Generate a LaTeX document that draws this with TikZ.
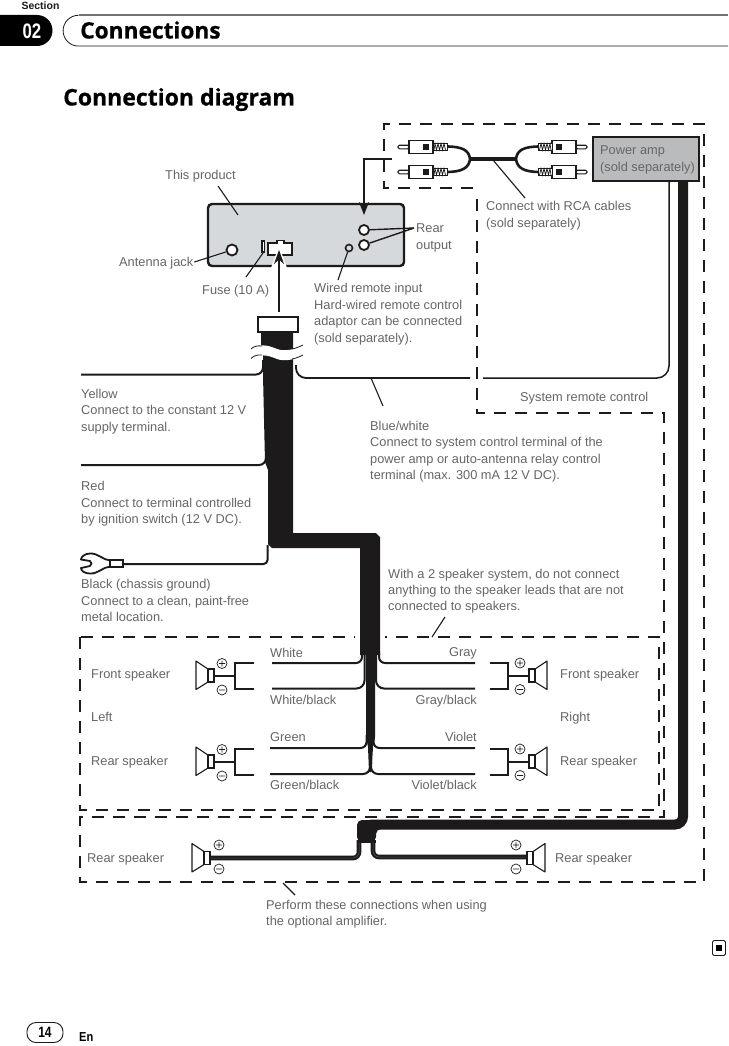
\documentclass[tikz,border=0pt]{standalone}
\usepackage{fontspec}
\setmainfont{Liberation Sans}
\newfontfamily\headfont{Open Sans}[BoldFeatures={FakeBold=0.6}]
\usetikzlibrary{arrows.meta}
\definecolor{txt}{HTML}{666666}
\definecolor{prod}{HTML}{D6D9DB}
\definecolor{amp}{HTML}{B9BBBD}
\definecolor{ink}{HTML}{1C1A1B}
\tikzset{
  lbl/.style={anchor=west,inner sep=0pt,text=txt,text height=10pt,text depth=2pt,font=\fontsize{12.8}{12.8}\selectfont},
  lblr/.style={lbl,anchor=east},
  region/.style={draw=ink,line width=1.2pt,dash pattern=on 12pt off 9pt},
  wire/.style={draw=ink,line width=2pt,rounded corners=7pt},
  leader/.style={draw=ink,line width=1.1pt},
  jack/.style={circle,draw=ink,fill=white,inner sep=0pt},
  spkr/.pic={
    \draw[ink,line width=1.1pt,fill=white,line join=round] (0,-6.5)--(-12,-14.5)--(-12,14)--(0,6.5)--cycle;
    \draw[ink,line width=1.1pt,fill=white] (0,-6.5) rectangle (6,6.5);
  },
  polar/.pic={
    \draw[ink,line width=.7pt] (0,0) circle (5pt) (-3,0)--(3,0) (0,-3)--(0,3);
    \draw[ink,line width=.7pt] (0,26.5) circle (5pt) (-3,26.5)--(3,26.5);
  },
  polarshort/.pic={
    \draw[ink,line width=.7pt] (0,0) circle (5pt) (-3,0)--(3,0) (0,-3)--(0,3);
    \draw[ink,line width=.7pt] (0,24) circle (5pt) (-3,24)--(3,24);
  },
  plug/.pic={
    \draw[ink,line width=1.1pt,fill=white,rounded corners=1.5pt] (-11,-1.8) rectangle (0,1.8);
    \draw[ink,line width=1.1pt,fill=white] (0,-6.5) rectangle (24,6.5);
    \fill[ink] (14,-3) rectangle (20,3);
    \draw[ink,line width=.9pt,fill=white] (24,-3.5) rectangle (38,3);
    \draw[ink,line width=.7pt] (25,3)--(26,-3.5)--(27.5,3)--(29,-3.5)--(30.5,3)--(32,-3.5)--(33.5,3)--(35,-3.5)--(36.5,3);
  }
}
\begin{document}
\begin{tikzpicture}[x=1pt,y=-1pt]
\useasboundingbox[fill=white] (0,0) rectangle (728,1046);

% header
\node[anchor=base,inner sep=0pt,font=\fontsize{10.5}{10.5}\selectfont\bfseries,text=ink] (sect) at (40.5,10) {Section};
\fill[black] (0,15) -- (37,15) arc[start angle=90,end angle=-90,radius=15.5pt] -- (0,46) -- cycle;
\node[inner sep=0pt,text=white,font=\fontsize{21}{21}\selectfont\bfseries] (num) at (32,31) {\scalebox{.8}[1]{02}};
\draw[draw=gray!90!black,line width=1.6pt] (728,15.3) -- (78.5,15.3);
\draw[draw=ink,line width=.8pt] (78.5,15.3) arc[start angle=90,end angle=270,radius=15.4pt] -- (728,46.1);
\node[anchor=base west,inner sep=0pt,font=\fontsize{22.7}{23}\headfont\bfseries] (title) at (80,38.5) {Connections};
\node[anchor=base west,inner sep=0pt,font=\fontsize{23}{23}\headfont\bfseries] (subtitle) at (63,105.5) {Connection diagram};

% dashed regions
\draw[region] (473,188)--(384,188)--(384,124)--(704,124)--(704,882)--(80,882)--(80,817)--(664,817)--(664,413)--(477,413)--(477,192);
\draw[region] (80,637) rectangle (659,810);
\fill[white] (355,630) rectangle (385,645);

% amp and RCA
\node[draw=ink,fill=amp,line width=2pt,minimum width=106pt,minimum height=44pt,inner sep=0pt] (amp) at (646,159) {};
\node[lbl] at (600,150) {Power amp};
\node[lbl] at (600,167) {(sold separately)};

\coordinate (rcaL) at (470,159);
\coordinate (rcaR) at (516,159);
\draw[ink,line width=3.2pt] (rcaL)--(rcaR);
\draw[ink,line width=2.6pt] (446,146.5) .. controls (462,146.5) and (469,150) .. (rcaL) .. controls (469,168) and (462,172) .. (446,172);
\draw[ink,line width=2.6pt] (540,146.5) .. controls (524,146.5) and (517,150) .. (rcaR) .. controls (517,168) and (524,172) .. (540,172);
\pic at (409,147) {plug};
\pic at (409,172) {plug};
\pic[xscale=-1] at (576,147) {plug};
\pic[xscale=-1] at (576,172) {plug};

% product
\node[draw=ink,fill=prod,line width=2.4pt,rounded corners=4pt,minimum width=196pt,minimum height=62pt,inner sep=0pt] (prod) at (306,235) {};
\node[jack,line width=1.8pt,minimum size=11pt] (ant) at (232,250) {};
\node[jack,line width=1.8pt,minimum size=10pt] (rearA) at (364,230) {};
\node[jack,line width=1.8pt,minimum size=10pt] (rearB) at (364,245) {};
\node[jack,line width=1.6pt,minimum size=7pt,fill=prod] (wired) at (349,248) {};
\draw[ink,line width=1.8pt,fill=white] (268,243)--(277,243)--(277,240.5)--(284,240.5)--(284,243)--(292,243)--(292,255)--(268,255)--cycle;
\draw[ink,line width=1.2pt,fill=white] (262,241) rectangle (264.5,252);
\fill[white] (279,246)--(271,268)--(287,268)--cycle;

% labels around product
\node[lbl] (tprod) at (165,175) {This product};
\node[lbl] (trca) at (486,206) {Connect with RCA cables};
\node[lbl] at (486,223) {(sold separately)};
\node[lbl] (trear) at (416,228) {Rear};
\node[lbl] at (416,245) {output};
\node[lbl] (tant) at (119,262) {Antenna jack};
\node[lbl] (tfuse) at (202,290) {Fuse (10 A)};
\node[lbl] (twired) at (314,288) {Wired remote input};
\node[lbl] at (314,305) {Hard-wired remote control};
\node[lbl] at (314,321) {adaptor can be connected};
\node[lbl] at (314,338) {(sold separately).};

% leaders
\draw[leader] (218,186) -- (238,215);
\draw[leader] (493,160) -- (525,198);
\draw[leader] (tant.east) ++(1,0) -- (ant);
\draw[leader] (263,253) -- (246,277);
\draw[leader] (wired) -- (338,280);
\draw[leader,line width=1.4pt] (trear.west) ++(-2,0) -- (rearA);
\draw[leader,line width=1.4pt] (trear.west) ++(-2,0) -- (rearB);
\draw[ink,line width=1.4pt,-{Stealth[length=13pt,width=10pt]}] (392,159) -- (364,159) -- (364,215);

% system remote
\draw[wire,line width=1.5pt,rounded corners=12pt] (669,181) -- (669,378) -- (483,378);
\draw[wire,line width=1.8pt,rounded corners=10pt] (470,378) -- (296,378) -- (296,365);
\draw[leader] (371,378) -- (383,406);

% amp power wire
\draw[ink,line width=10pt,rounded corners=8pt] (683,181) -- (683,824.5) -- (370,824.5);
\fill[ink,rounded corners=5pt] (357,842) -- (357,820) -- (385,820) -- (385,829) -- (376,829) -- (376,842) -- cycle;
\fill[ink] (357,840) rectangle (376,843);

% bottom speaker wires
\draw[ink,line width=4.6pt,rounded corners=6pt] (211,858) -- (359,858) -- (359,840);
\draw[ink,line width=4.6pt,rounded corners=6pt] (526,857) -- (373,857) -- (373,840);
\draw[gray!60!ink,line width=.5pt,rounded corners=6pt] (211,858) -- (359,858) -- (359,843);
\draw[gray!60!ink,line width=.5pt,rounded corners=6pt] (526,857) -- (373,857) -- (373,843);
\pic at (204,858) {spkr};
\pic at (219,845) {polarshort};
\pic[xscale=-1] at (533,858) {spkr};
\pic at (516,845) {polarshort};

% harness wires
\draw[wire] (81,374.5) -- (263,374.5) -- (263,360);
\draw[wire] (81,465) -- (266,465) -- (266,450);
\draw[wire,rounded corners=4pt] (122,564) -- (267.5,564) -- (267.5,545);

% harness
\fill[ink] (261,332) -- (293,332) -- (293,533) -- (376,533) -- (380,537) -- (380,655) -- (375,655) -- (375,737) -- (373,747) -- (371.5,772) -- (369,772) -- (368,747) -- (366,737) -- (366,655) -- (360,655) -- (360,548) -- (272,548) -- (268,544) -- (268,470) -- (265,462) -- (263,375) -- (263,352) -- (261,345) -- cycle;
\node[draw=ink,fill=white,line width=1.2pt,minimum width=40pt,minimum height=15pt,inner sep=0pt] (conn) at (278,324.5) {};
\draw[ink,line width=1.5pt,-{Stealth[length=14pt,width=10pt]}] (279,312) -- (279,250);
% break mark
\fill[white] (250,350) .. controls (258,343) and (268,345) .. (277,349) .. controls (285,352) and (295,349) .. (303,346) -- (303,356) .. controls (295,359) and (285,362) .. (277,359) .. controls (268,355) and (258,353) .. (250,360) -- cycle;
\draw[ink,line width=.8pt] (251,349) .. controls (254,346) and (258,345.5) .. (262,346);
\draw[ink,line width=.8pt] (251,358.5) .. controls (254,355.5) and (258,354.5) .. (262,355);
\draw[ink,line width=.8pt] (292,349) .. controls (295,348.5) and (299,347) .. (303,345);
\draw[ink,line width=.8pt] (292,359) .. controls (295,358.5) and (299,357) .. (303,355);

% ground lug
\draw[ink,line width=1.8pt,fill=white,line join=round] (110,560.5) .. controls (103,560) and (98,553) .. (90,553.5) .. controls (85,553.5) and (81,557) .. (81,559.5) -- (90,561) .. controls (92,562) and (92,565) .. (90,566) -- (81,568) .. controls (81,571) and (85,573.5) .. (90,573.5) .. controls (98,574) and (103,567) .. (110,566.5) -- cycle;
\draw[ink,line width=1.2pt,fill=white] (110,560) rectangle (123,567);

% left speakers
\foreach \dy in {0,86}{
  \begin{scope}[yshift=-\dy pt]
  \pic at (208,675.5) {spkr};
  \pic at (222,663.5) {polar};
  \draw[ink,line width=1.8pt] (214,676)--(235,676);
  \draw[ink,line width=1.8pt] (254,663)--(235,663)--(235,689)--(254,689);
  \pic[xscale=-1] at (535,675.5) {spkr};
  \pic at (520,663) {polar};
  \draw[ink,line width=1.8pt] (529,676)--(508,676);
  \draw[ink,line width=1.8pt] (490,663)--(508,663)--(508,689)--(490,689);
  \end{scope}
}
% speaker wires
\draw[wire,rounded corners=6pt] (272,663) -- (362,663) -- (362,652);
\draw[wire,rounded corners=8pt] (272,688.5) -- (364.5,688.5) -- (364.5,655);
\draw[wire,rounded corners=6pt] (270,748) -- (366.5,748) -- (366.5,735);
\draw[wire,rounded corners=7pt] (270,774) -- (370,774) -- (370,760);
\draw[wire,rounded corners=6pt] (475,663) -- (379,663) -- (379,652);
\draw[wire,rounded corners=8pt] (475,688.5) -- (376,688.5) -- (376,655);
\draw[wire,rounded corners=6pt] (475,748) -- (373.5,748) -- (373.5,735);
\draw[wire,rounded corners=7pt] (475,774) -- (371,774) -- (371,760);

% labels wires
\node[lbl] at (81,394) {Yellow};
\node[lbl] at (81,410) {Connect to the constant 12 V};
\node[lbl] at (81,427) {supply terminal.};
\node[lbl] at (520,397) {System remote control};
\node[lbl] at (370,426) {Blue/white};
\node[lbl] at (370,442) {Connect to system control terminal of the};
\node[lbl] at (370,459) {power amp or auto-antenna relay control};
\node[lbl] at (370,475) {terminal (max. 300 mA 12 V DC).};
\node[lbl] at (81,486) {Red};
\node[lbl] at (81,503) {Connect to terminal controlled};
\node[lbl] at (81,519) {by ignition switch (12 V DC).};
\node[lbl] at (81,584) {Black (chassis ground)};
\node[lbl] at (81,601) {Connect to a clean, paint-free};
\node[lbl] at (81,617) {metal location.};
\node[lbl] at (388,574) {With a 2 speaker system, do not connect};
\node[lbl] at (388,590) {anything to the speaker leads that are not};
\node[lbl] at (388,606) {connected to speakers.};
\draw[leader] (445,617) -- (432,637);
\node[lbl] at (91,674) {Front speaker};
\node[lbl] at (91,717) {Left};
\node[lbl] at (91,761) {Rear speaker};
\node[lbl] at (270,653) {White};
\node[lbl] at (270,700) {White/black};
\node[lbl] at (270,737) {Green};
\node[lbl] at (270,785) {Green/black};
\node[lblr] at (477,652) {Gray};
\node[lblr] at (477,700) {Gray/black};
\node[lblr] at (477,737) {Violet};
\node[lblr] at (477,785) {Violet/black};
\node[lbl] at (560,674) {Front speaker};
\node[lbl] at (560,717) {Right};
\node[lbl] at (560,761) {Rear speaker};
\node[lbl] at (87,858) {Rear speaker};
\node[lbl] at (555,858) {Rear speaker};
\node[lbl] (tperf) at (266,905) {Perform these connections when using};
\node[lbl] at (266,921) {the optional amplifier.};
\draw[leader] (283,883) -- (295,895);

% footer
\node[draw=ink,line width=.9pt,rounded corners=1.5pt,inner sep=0pt,minimum width=13pt,minimum height=15pt] (endmark) at (719,948) {};
\fill[black] (716,945) rectangle (722,951);
\node[draw=ink,line width=.9pt,rounded corners=9pt,inner sep=0pt,minimum width=36pt,minimum height=20pt,font=\fontsize{15}{15}\selectfont\bfseries] (page) at (45,1032.5) {\scalebox{.8}[1]{14}};
\node[anchor=west,inner sep=0pt,font=\fontsize{13}{13}\selectfont\bfseries] (lang) at (79,1037) {\scalebox{.85}[1]{En}};
\end{tikzpicture}
\end{document}
